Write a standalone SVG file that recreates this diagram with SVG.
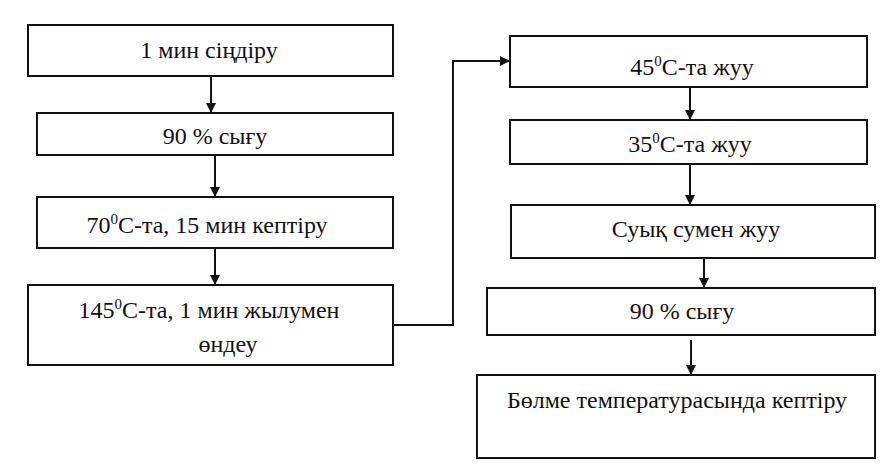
<svg xmlns="http://www.w3.org/2000/svg" width="887" height="475" viewBox="0 0 887 475" font-family="'Liberation Serif', 'Times New Roman', serif">
<defs>
<marker id="ah" viewBox="0 0 10 10" refX="10" refY="5" markerWidth="10" markerHeight="10" markerUnits="userSpaceOnUse" orient="auto">
<path d="M0,0 L10,5 L0,10 Z" fill="#111"/>
</marker>
</defs>
<rect width="887" height="475" fill="#fff"/>
<g id="connectors" fill="none" stroke="#111" stroke-width="2">
<line x1="211" y1="76" x2="211" y2="113" marker-end="url(#ah)"/>
<line x1="215" y1="155" x2="215" y2="197" marker-end="url(#ah)"/>
<line x1="215" y1="248" x2="215" y2="285" marker-end="url(#ah)"/>
<polyline points="393,325 453,325 453,61 510,61" marker-end="url(#ah)"/>
<line x1="690" y1="87" x2="690" y2="120" marker-end="url(#ah)"/>
<line x1="690" y1="164" x2="690" y2="205" marker-end="url(#ah)"/>
<line x1="704" y1="255" x2="704" y2="288" marker-end="url(#ah)"/>
<line x1="691" y1="340" x2="691" y2="375" marker-end="url(#ah)"/>
</g>
<g font-size="24" fill="#111" text-anchor="middle">
<g id="n1"><rect x="28" y="25" width="365" height="51" fill="#fff" stroke="#111" stroke-width="2"/><text x="209" y="58">1 мин сіңдіру</text></g>
<g id="n2"><rect x="37" y="113" width="356" height="42" fill="#fff" stroke="#111" stroke-width="2"/><text x="215" y="144">90 % сығу</text></g>
<g id="n3"><rect x="37" y="197" width="356" height="51" fill="#fff" stroke="#111" stroke-width="2"/><text x="207" y="233">70<tspan font-size="15" dy="-9">0</tspan><tspan dy="9">С-та, 15 мин кептіру</tspan></text></g>
<g id="n4"><rect x="28" y="285" width="365" height="80" fill="#fff" stroke="#111" stroke-width="2"/><text x="209" y="318">145<tspan font-size="15" dy="-9">0</tspan><tspan dy="9">С-та, 1 мин жылумен</tspan></text><text x="228" y="352">өндеу</text></g>
<g id="n5"><rect x="510" y="36" width="357" height="51" fill="#fff" stroke="#111" stroke-width="2"/><text x="692" y="75">45<tspan font-size="15" dy="-9">0</tspan><tspan dy="9">С-та жуу</tspan></text></g>
<g id="n6"><rect x="510" y="120" width="357" height="44" fill="#fff" stroke="#111" stroke-width="2"/><text x="690" y="152">35<tspan font-size="15" dy="-9">0</tspan><tspan dy="9">С-та жуу</tspan></text></g>
<g id="n7"><rect x="511" y="205" width="364" height="53" fill="#fff" stroke="#111" stroke-width="2"/><text x="696" y="237">Суық сумен жуу</text></g>
<g id="n8"><rect x="487" y="288" width="388" height="47" fill="#fff" stroke="#111" stroke-width="2"/><text x="682" y="319">90 % сығу</text></g>
<g id="n9"><rect x="477" y="375" width="398" height="83" fill="#fff" stroke="#111" stroke-width="2"/><text x="677" y="408">Бөлме температурасында кептіру</text></g>
</g>
</svg>
